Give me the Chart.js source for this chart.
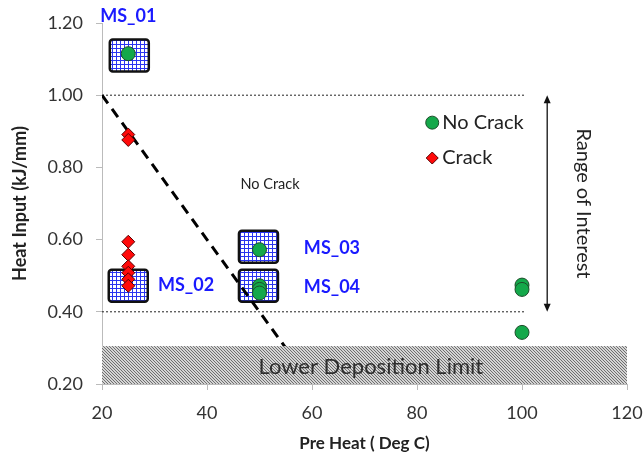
<!DOCTYPE html>
<html>
<head>
<meta charset="utf-8">
<script src="https://cdn.jsdelivr.net/npm/chart.js@4/dist/chart.umd.min.js"></script>
<style>
  body { margin: 0; background: #fff; }
  #wrap { width: 643px; height: 459px; }
</style>
</head>
<body>
<div id="wrap"><canvas id="c" width="643" height="459"></canvas></div>
<script>
// measured samples
const noCrackX = [25, 50, 50, 50, 50, 100, 100, 100];
const noCrackY = [1.115, 0.572, 0.472, 0.462, 0.452, 0.474, 0.462, 0.343];
const crackX = [25, 25, 25, 25, 25, 25, 25, 25];
const crackY = [0.891, 0.876, 0.594, 0.558, 0.526, 0.508, 0.49, 0.472];

// crack threshold line and reference levels
const limitX = [20, 60];
const limitY = [1.0, 0.2];
const refLevels = [1.0, 0.4];
const refEndX = 100.5;

// tick labels
const xTicks = [20, 40, 60, 80, 100, 120];
const yTicks = [0.2, 0.4, 0.6, 0.8, 1.0, 1.2];

// sample boxes and their names
const msNames = ['MS_01', 'MS_02', 'MS_03', 'MS_04'];
const msBoxX = [25.2, 25, 49.8, 49.8];
const msBoxY = [1.11, 0.472, 0.58, 0.472];
const msLabelX = [25, 36, 63.8, 63.8];
const msLabelY = [1.22, 0.474, 0.575, 0.469];

// lower deposition band
const bandTop = 0.305;

const pts = (xs, ys) => xs.map((v, i) => ({ x: v, y: ys[i] }));
const FONT = 'Lato, "Open Sans", sans-serif';

function makeGrid() {
  const c = document.createElement('canvas');
  c.width = 4; c.height = 4;
  const g = c.getContext('2d');
  g.fillStyle = '#ffffff'; g.fillRect(0, 0, 4, 4);
  g.fillStyle = '#2a35f0';
  g.fillRect(0, 0, 4, 1);
  g.fillRect(0, 0, 1, 4);
  return g.createPattern(c, 'repeat');
}
function makeHatch() {
  const c = document.createElement('canvas');
  c.width = 3; c.height = 3;
  const g = c.getContext('2d');
  g.fillStyle = '#d4d4d4'; g.fillRect(0, 0, 3, 3);
  g.fillStyle = '#6e6e6e';
  for (let i = 0; i < 3; i++) g.fillRect(i, i, 1, 1);
  return g.createPattern(c, 'repeat');
}

const annot = {
  id: 'annot',
  beforeDatasetsDraw(chart) {
    const { ctx, scales: { x, y } } = chart;
    ctx.save();
    // sample boxes
    const grid = makeGrid();
    msBoxX.forEach((bx, i) => {
      const cx = x.getPixelForValue(bx), cy = y.getPixelForValue(msBoxY[i]);
      ctx.beginPath();
      ctx.roundRect(cx - 19.5, cy - 16, 39, 32, 3);
      ctx.fillStyle = grid;
      ctx.fill();
      ctx.lineWidth = 2.5;
      ctx.strokeStyle = '#111';
      ctx.stroke();
    });
    ctx.restore();
  },
  afterDatasetsDraw(chart) {
    const { ctx, scales: { x, y } } = chart;
    ctx.save();
    // hatched band (covers the threshold line)
    const bx0 = x.getPixelForValue(20), bx1 = x.getPixelForValue(120);
    const by0 = y.getPixelForValue(bandTop), by1 = y.getPixelForValue(0.2);
    ctx.fillStyle = makeHatch();
    ctx.fillRect(bx0, by0, bx1 - bx0, by1 - by0);
    ctx.fillStyle = '#2e2e2e';
    ctx.font = '22px ' + FONT;
    ctx.textAlign = 'center';
    ctx.textBaseline = 'middle';
    ctx.fillText('Lower Deposition Limit', x.getPixelForValue(71.2), y.getPixelForValue(0.246));
    // sample names
    ctx.fillStyle = '#1a1aff';
    ctx.font = 'bold 18px ' + FONT;
    msNames.forEach((n, i) => ctx.fillText(n, x.getPixelForValue(msLabelX[i]), y.getPixelForValue(msLabelY[i])));
    // small region label
    ctx.fillStyle = '#222';
    ctx.font = '14.5px ' + FONT;
    ctx.fillText('No Crack', x.getPixelForValue(52), y.getPixelForValue(0.754));
    // legend
    const lx = x.getPixelForValue(82.9);
    const l1 = y.getPixelForValue(0.924), l2 = y.getPixelForValue(0.826);
    ctx.lineWidth = 1;
    ctx.strokeStyle = '#1d4d2a';
    ctx.fillStyle = '#14a84a';
    ctx.beginPath(); ctx.arc(lx, l1, 6.5, 0, Math.PI * 2); ctx.fill(); ctx.stroke();
    ctx.strokeStyle = '#5a0000';
    ctx.fillStyle = '#ff0a0a';
    ctx.beginPath();
    ctx.moveTo(lx, l2 - 6); ctx.lineTo(lx + 6, l2); ctx.lineTo(lx, l2 + 6); ctx.lineTo(lx - 6, l2); ctx.closePath();
    ctx.fill(); ctx.stroke();
    ctx.fillStyle = '#222';
    ctx.font = '20px ' + FONT;
    ctx.textAlign = 'left';
    ctx.fillText('No Crack', lx + 10, l1);
    ctx.fillText('Crack', lx + 10, l2);
    // range of interest arrow
    const ax = x.getPixelForValue(104.8);
    const at = y.getPixelForValue(1.0), ab = y.getPixelForValue(0.4);
    ctx.strokeStyle = '#111';
    ctx.fillStyle = '#111';
    ctx.lineWidth = 1.3;
    ctx.beginPath(); ctx.moveTo(ax, at + 6); ctx.lineTo(ax, ab - 6); ctx.stroke();
    ctx.beginPath(); ctx.moveTo(ax, at); ctx.lineTo(ax - 3.5, at + 8); ctx.lineTo(ax + 3.5, at + 8); ctx.closePath(); ctx.fill();
    ctx.beginPath(); ctx.moveTo(ax, ab); ctx.lineTo(ax - 3.5, ab - 8); ctx.lineTo(ax + 3.5, ab - 8); ctx.closePath(); ctx.fill();
    ctx.translate(x.getPixelForValue(111.7), y.getPixelForValue(0.7));
    ctx.rotate(Math.PI / 2);
    ctx.textAlign = 'center';
    ctx.fillStyle = '#222';
    ctx.font = '20px ' + FONT;
    ctx.fillText('Range of Interest', 0, 0);
    ctx.restore();
  }
};

new Chart(document.getElementById('c'), {
  type: 'scatter',
  data: {
    datasets: [
      {
        label: 'No Crack',
        data: pts(noCrackX, noCrackY),
        pointStyle: 'circle',
        pointRadius: 7,
        backgroundColor: '#14a84a',
        borderColor: '#1d4d2a',
        borderWidth: 1,
        order: 1
      },
      {
        label: 'Crack',
        data: pts(crackX, crackY),
        pointStyle: 'rectRot',
        pointRadius: 6.5,
        backgroundColor: '#ff0a0a',
        borderColor: '#5a0000',
        borderWidth: 1,
        order: 2
      },
      {
        label: 'limit',
        type: 'line',
        data: pts(limitX, limitY),
        borderColor: '#000',
        borderWidth: 3,
        borderDash: [10, 7],
        pointRadius: 0,
        order: 3
      },
      ...refLevels.map(v => ({
        label: 'ref',
        type: 'line',
        data: pts([20, refEndX], [v, v]),
        borderColor: '#222',
        borderWidth: 1,
        borderDash: [2, 2],
        pointRadius: 0,
        order: 4
      }))
    ]
  },
  options: {
    responsive: false,
    animation: false,
    layout: { padding: { top: 23, right: 16, left: 0, bottom: 0 } },
    plugins: { legend: { display: false }, tooltip: { enabled: false } },
    scales: {
      x: {
        min: 20, max: 120,
        afterBuildTicks: s => { s.ticks = xTicks.map(v => ({ value: v })); },
        grid: { drawOnChartArea: false, color: '#bbb', tickLength: 6 },
        border: { color: '#bbb' },
        ticks: { color: '#333', font: { size: 18, family: FONT }, padding: 12 },
        title: { display: true, text: 'Pre Heat ( Deg C)', color: '#222', font: { size: 17, weight: 'bold', family: FONT }, padding: { top: 0, bottom: 5 } },
        afterFit: s => { s.height = 75; s.paddingRight = 0; s.paddingLeft = 0; }
      },
      y: {
        min: 0.2, max: 1.2,
        afterBuildTicks: s => { s.ticks = yTicks.map(v => ({ value: v })); },
        grid: { drawOnChartArea: false, color: '#bbb', tickLength: 6 },
        border: { color: '#bbb' },
        ticks: { color: '#333', font: { size: 18, family: FONT }, padding: 13, callback: v => v.toFixed(2) },
        title: { display: true, text: 'Heat Input (kJ/mm)', color: '#222', font: { size: 18, weight: 'bold', family: FONT }, padding: { top: 9, bottom: 0 } },
        afterFit: s => { s.width = 102; s.paddingTop = 0; s.paddingBottom = 0; }
      }
    }
  },
  plugins: [annot]
});
</script>
</body>
</html>
